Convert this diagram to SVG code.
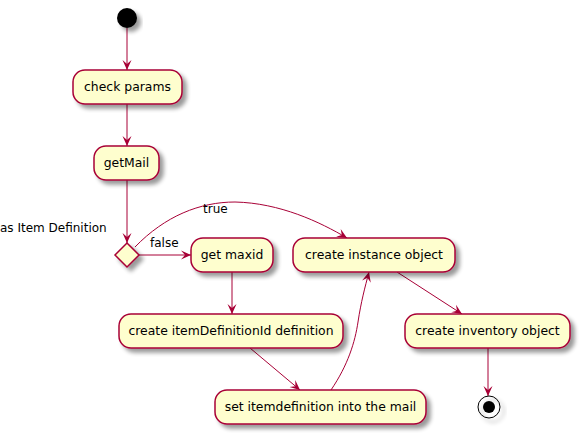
<svg xmlns="http://www.w3.org/2000/svg" width="581" height="434" viewBox="0 0 581 434">
<style>
.box{fill:#FEFECE;stroke:#A80036;stroke-width:1.5;filter:url(#sh)}
.t{font-family:"DejaVu Sans","Liberation Sans",sans-serif;font-size:12px;fill:#000}
.c{text-anchor:middle;font-size:12.4px}
.e{fill:none;stroke:#A80036;stroke-width:1;marker-end:url(#ah)}
</style>
<defs>
<filter id="sh" x="-20%" y="-20%" width="150%" height="170%">
<feGaussianBlur in="SourceAlpha" stdDeviation="2"/>
<feOffset dx="4" dy="4" result="b"/>
<feComponentTransfer><feFuncA type="linear" slope="0.4"/></feComponentTransfer>
<feMerge><feMergeNode/><feMergeNode in="SourceGraphic"/></feMerge>
</filter>
<marker id="ah" viewBox="0 0 10 10" refX="10" refY="5" markerWidth="10" markerHeight="10" markerUnits="userSpaceOnUse" orient="auto">
<path d="M0,0.5 L10,5 L0,9.5 L4,5 Z" fill="#A80036"/>
</marker>
</defs>
<g id="connectors">
<line class="e" x1="127" y1="28" x2="127" y2="70"/>
<line class="e" x1="127" y1="104" x2="127" y2="146"/>
<line class="e" x1="127" y1="180" x2="127" y2="243"/>
<line class="e" x1="139" y1="255" x2="191" y2="255"/>
<path class="e" d="M135,247 C165,216 200,202 235,202 C280,203 320,222 347,238"/>
<line class="e" x1="232" y1="272" x2="232" y2="314"/>
<line class="e" x1="250" y1="348" x2="300" y2="390"/>
<path class="e" d="M331,390 C348,365 355,342 358,322 C361,302 365,287 369,272"/>
<line class="e" x1="397" y1="272" x2="462" y2="314"/>
<line class="e" x1="488" y1="348" x2="488" y2="396"/>
<text class="t" x="150" y="247">false</text>
<text class="t" x="203" y="213">true</text>
</g>
<g id="start"><circle cx="127" cy="18" r="10" fill="#000" filter="url(#sh)"/></g>
<g id="check_params"><rect class="box" x="73" y="70" width="109" height="34" rx="12"/><text class="t c" x="127.5" y="91">check params</text></g>
<g id="getMail"><rect class="box" x="94" y="146" width="65" height="34" rx="12"/><text class="t c" x="126.5" y="167">getMail</text></g>
<g id="decision"><polygon points="127,243 139,255 127,267 115,255" fill="#FEFECE" stroke="#A80036" stroke-width="1.5" filter="url(#sh)"/><text class="t" x="0" y="232">as Item Definition</text></g>
<g id="get_maxid"><rect class="box" x="191" y="238" width="82" height="34" rx="12"/><text class="t c" x="232" y="259">get maxid</text></g>
<g id="create_instance"><rect class="box" x="293" y="238" width="162" height="34" rx="12"/><text class="t c" x="374" y="259">create instance object</text></g>
<g id="create_itemdef"><rect class="box" x="119" y="314" width="224" height="34" rx="12"/><text class="t c" x="231" y="335">create itemDefinitionId definition</text></g>
<g id="set_itemdef"><rect class="box" x="215" y="390" width="211" height="34" rx="12"/><text class="t c" x="320.5" y="411">set itemdefinition into the mail</text></g>
<g id="create_inventory"><rect class="box" x="405" y="314" width="165" height="34" rx="12"/><text class="t c" x="487.5" y="335">create inventory object</text></g>
<g id="end"><circle cx="489" cy="407" r="11" fill="none" stroke="#000" stroke-width="1" filter="url(#sh)"/><circle cx="489" cy="407" r="6" fill="#000"/></g>
</svg>
